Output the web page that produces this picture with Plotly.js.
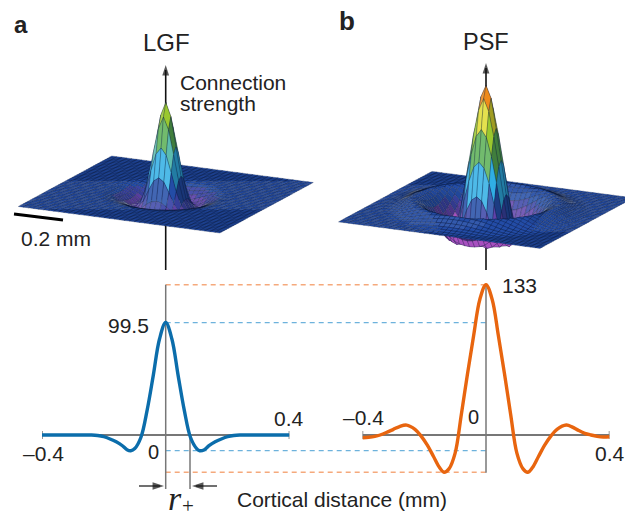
<!DOCTYPE html>
<html><head><meta charset="utf-8">
<script src="https://cdn.plot.ly/plotly-3.0.1.min.js"></script>
<style>html,body{margin:0;padding:0;background:#fff}#c{width:625px;height:517px}</style></head>
<body><div id="c"></div>
<script>
// Cortical distance (mm) and connection strength
const xLGF=[-0.4,-0.3,-0.26,-0.24,-0.22,-0.2,-0.18,-0.16,-0.14,-0.125,-0.113,-0.1,-0.08,-0.06,-0.04,-0.02,0,0.02,0.04,0.06,0.08,0.1,0.11,0.125,0.14,0.16,0.18,0.2,0.22,0.24,0.26,0.3,0.4];
const yLGF=[0,0,0,0,-0.4,-1.5,-3.5,-6,-9.5,-13,-13.9,-12,-2,22,53,85,99.5,85,53,22,-2,-12,-13.9,-13,-9.5,-6,-3.5,-1.5,-0.4,0,0,0,0];
const xPSF=[-0.4,-0.38,-0.36,-0.343,-0.32,-0.3,-0.28,-0.257,-0.23,-0.21,-0.19,-0.17,-0.15,-0.136,-0.12,-0.1,-0.08,-0.06,-0.04,-0.02,0,0.02,0.04,0.06,0.08,0.1,0.12,0.135,0.15,0.17,0.19,0.21,0.23,0.26,0.28,0.3,0.32,0.34,0.36,0.38,0.4];
const yPSF=[-2.4,-2,-1.2,0,2.5,5,7.5,8.8,5,-1,-9,-19,-29,-33,-30,-16,18,54,88,120,133,120,88,54,18,-16,-30,-33,-29,-19,-9,-1,5,8.8,7,4,1.5,0,-1.2,-1.8,-1.5];
const peakLGF=99.5,troughLGF=-13.9,peakPSF=133,troughPSF=-33;
// Surface: grid coordinates (mm) and the value bands of the 3D colouring
const gridAxis=[];for(let i=-20;i<=20;i++)gridAxis.push(i/50);
const bandEdges=[-20,-9,-3,10,22,38,55,75,95,115];
const bandColors=['#a850c0','#5f42aa','#3a44a6','#234ca6','#2a72c6','#30aee4','#5cbcae','#5ab055','#9ac82e','#e0dc30','#ee8a1a'];
const DARK='#222',GREY='#777',BLUE='#0b6dab',ORANGE='#e8650f',LBLUE='#6db2dc',LORANGE='#f5a97c';

const W=625,H=517,px=x=>x/W,py=y=>1-y/H;

function profile(xs,ys,r){
  let i=xs.findIndex(v=>v>=0);
  for(;i<xs.length-1;i++){ if(r<=xs[i+1]){const t=(r-xs[i])/(xs[i+1]-xs[i]);return ys[i]+t*(ys[i+1]-ys[i]);} }
  return ys[ys.length-1];
}
function shade(hex,f){
  const n=parseInt(hex.slice(1),16),c=[n>>16,(n>>8)&255,n&255];
  return 'rgb('+c.map(v=>Math.min(255,Math.round(f>=1?v+(255-v)*(f-1):v*f))).join(',')+')';
}
// Orthographic projection of the plate onto the picture, through one pixel-scaled axis pair
function surfaceTraces(xs,ys,cx,cy){
  const eu=[100.75,13.25],ev=[46.75,-25.25],hgt=0.925,half=0.4,n=gridAxis.length;
  const Z=gridAxis.map(b=>gridAxis.map(a=>profile(xs,ys,Math.hypot(a,b))));
  const P=(i,j)=>{const u=gridAxis[i]/half,v=gridAxis[j]/half;
    return [cx+u*eu[0]+v*ev[0], cy+u*eu[1]+v*ev[1]-hgt*Z[j][i]];};
  const quads=[];
  for(let j=0;j<n-1;j++)for(let i=0;i<n-1;i++){
    const u=(gridAxis[i]+gridAxis[i+1])/2/half,v=(gridAxis[j]+gridAxis[j+1])/2/half;
    const depth=u*eu[1]+v*ev[1];
    const zAvg=(Z[j][i]+Z[j][i+1]+Z[j+1][i]+Z[j+1][i+1])/4;
    const dzu=(Z[j][i+1]+Z[j+1][i+1]-Z[j][i]-Z[j+1][i])/2,dzv=(Z[j+1][i]+Z[j+1][i+1]-Z[j][i]-Z[j][i+1])/2;
    const s=0.9*dzu+0.95*dzv; // rises toward screen right and toward the back
    let f=1+(s>0?0.14:0.3)*Math.tanh(s/6);
    if(zAvg<bandEdges[0])f=Math.max(f,1);
    f=Math.round(f*14)/14;
    let b=0;while(b<bandEdges.length&&zAvg>=bandEdges[b])b++;
    quads.push({depth,i,j,col:shade(bandColors[b],f)});
  }
  quads.sort((a,b)=>a.depth-b.depth);
  const out=[];let cur=null;
  quads.forEach(q=>{
    if(!cur||cur.fillcolor!==q.col){
      cur={type:'scatter',mode:'lines',xaxis:'x3',yaxis:'y3',x:[],y:[],fill:'toself',fillcolor:q.col,hoverinfo:'skip',cliponaxis:true,
        line:{color:'rgba(12,24,60,0.5)',width:0.55}};
      out.push(cur);
    }
    [[q.i,q.j],[q.i+1,q.j],[q.i+1,q.j+1],[q.i,q.j+1],[q.i,q.j]].forEach(p=>{const c=P(p[0],p[1]);cur.x.push(c[0]);cur.y.push(c[1]);});
    cur.x.push(null);cur.y.push(null);
  });
  return out;
}

const X0a=165.7,X0b=486;
const yP=v=>py(435-v*1.13);
const traces=[
  ...surfaceTraces(xLGF,yLGF,165.8,194.5),
  ...surfaceTraces(xPSF,yPSF,486,208.5),
  {type:'scatter',mode:'lines',x:xLGF,y:yLGF,xaxis:'x',yaxis:'y',line:{color:BLUE,width:3.4,shape:'spline',smoothing:1},hoverinfo:'skip'},
  {type:'scatter',mode:'lines',x:xPSF,y:yPSF,xaxis:'x2',yaxis:'y',line:{color:ORANGE,width:3.4,shape:'spline',smoothing:1},hoverinfo:'skip'},
  {type:'scatter',mode:'markers',xaxis:'x3',yaxis:'y3',x:[X0a,X0b,164,192],y:[65,63,486,486],hoverinfo:'skip',
    marker:{symbol:'arrow',size:[11,11,12,12],angle:[0,0,90,270],color:'#111',line:{width:0}}}
];
const line=(x0,y0,x1,y1,color,width,dash,xref,yref)=>({type:'line',x0,y0,x1,y1,xref:xref||'paper',yref:yref||'paper',layer:'below',line:{color,width,dash:dash||'solid'}});
const shapes=[
  line(px(X0a),yP(peakPSF),px(X0b),yP(peakPSF),LORANGE,1.4,'5px,4px'),
  line(px(X0a),yP(peakLGF),px(X0b),yP(peakLGF),LBLUE,1.3,'5px,4px'),
  line(px(X0a),yP(troughLGF),px(X0b),yP(troughLGF),LBLUE,1.3,'5px,4px'),
  line(px(X0a),yP(troughPSF),px(X0b),yP(troughPSF),LORANGE,1.4,'5px,4px'),
  line(-0.4,0,0.4,0,GREY,1.8,'solid','x','y'),
  line(-0.4,-3.5,-0.4,3.5,GREY,1.5,'solid','x','y'),
  line(0.4,-3.5,0.4,3.5,GREY,1.5,'solid','x','y'),
  line(-0.4,0,0.4,0,GREY,1.8,'solid','x2','y'),
  line(-0.4,-3.5,-0.4,3.5,GREY,1.5,'solid','x2','y'),
  line(0.4,-3.5,0.4,3.5,GREY,1.5,'solid','x2','y'),
  line(px(X0a),py(284.7),px(X0a),py(489),GREY,1.5),
  line(px(190),py(435),px(190),py(489),GREY,1.5),
  line(px(X0b),py(284.7),px(X0b),py(472.7),GREY,1.5),
  line(px(X0a),py(70),px(X0a),py(270),'#111',1.6),
  line(px(X0b),py(68),px(X0b),py(270),'#111',1.6),
  line(px(139),py(486),px(160),py(486),'#111',1.2),
  line(px(196),py(486),px(217),py(486),'#111',1.2),
  Object.assign(line(px(14),py(214),px(63),py(220),'#000',3),{layer:'above'})
];
const txt=(x,y,text,size,extra)=>Object.assign({xref:'paper',yref:'paper',x:px(x),y:py(y),text,showarrow:false,xanchor:'center',yanchor:'middle',
  font:{family:'"Liberation Sans",Arial,sans-serif',size,color:DARK}},extra||{});
const annotations=[
  txt(21,24,'<b>a</b>',24),txt(347,21,'<b>b</b>',26),
  txt(166,42,'LGF',24),txt(486,42,'PSF',23.5),
  txt(178,82,'Connection',21,{xanchor:'left'}),txt(178,103,'strength',21,{xanchor:'left'}),
  txt(19,238,'0.2 mm',21,{xanchor:'left'}),
  txt(128.5,325,'99.5',21),txt(153,452,'0',20),txt(43,453,'–0.4',21),txt(289,418,'0.4',21),
  txt(519,285,'133',21),txt(473,417,'0',20),txt(363,417,'–0.4',21),txt(610,453,'0.4',21),
  txt(341.5,499,'Cortical distance (mm)',21),
  txt(174.5,498,'<i>r</i>',34,{font:{family:'Liberation Serif',size:34,color:DARK},width:30,height:50}),
  txt(187.5,506,'+',21,{font:{family:'Liberation Serif',size:21,color:DARK},width:20,height:30})
];
const hide={visible:false,fixedrange:true};
const layout={width:W,height:H,margin:{l:0,r:0,t:0,b:0},paper_bgcolor:'#fff',plot_bgcolor:'rgba(0,0,0,0)',showlegend:false,
  xaxis:{...hide,domain:[px(42),px(289.4)],range:[-0.4,0.4],anchor:'y'},
  xaxis2:{...hide,domain:[px(362.5),px(609.5)],range:[-0.4,0.4],anchor:'y'},
  yaxis:{...hide,domain:[0,1],range:[-82/1.13,435/1.13],anchor:'x'},
  xaxis3:{...hide,domain:[0,1],range:[0,W],anchor:'y3'},
  yaxis3:{...hide,domain:[0,1],range:[H,0],anchor:'x3'},
  shapes,annotations};
Plotly.newPlot('c',traces,layout,{displayModeBar:false,staticPlot:true});
</script></body></html>
